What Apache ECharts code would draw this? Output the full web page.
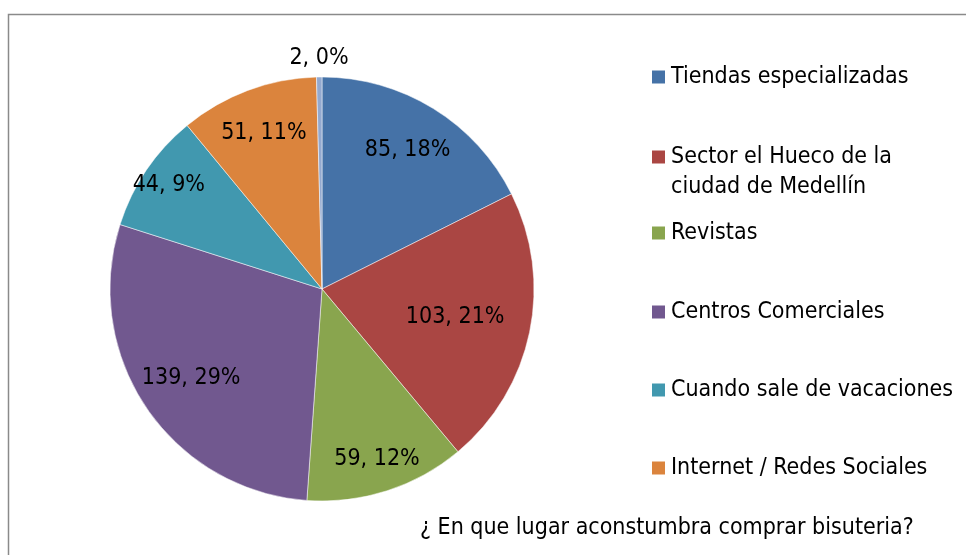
<!DOCTYPE html>
<html>
<head>
<meta charset="utf-8">
<script src="https://cdn.jsdelivr.net/npm/echarts@6/dist/echarts.min.js"></script>
<style>
  html, body { margin: 0; padding: 0; background: #fff; }
  #chart { width: 966px; height: 555px; }
</style>
</head>
<body>
<div id="chart"></div>
<script>
// data
var categories = [
    'Tiendas especializadas',
    'Sector el Hueco de la ciudad de Medellín',
    'Revistas',
    'Centros Comerciales',
    'Cuando sale de vacaciones',
    'Internet / Redes Sociales',
    'Otro'
];
var counts = [85, 103, 59, 139, 44, 51, 2];
var sliceColors = ['#4572A7', '#AA4643', '#89A54E', '#71588F', '#4198AF', '#DB843D', '#93A9CF'];
var legendNames = categories.slice(0, 6);
var chartTitle = '¿ En que lugar aconstumbra comprar bisuteria?';

// layout: how far from the centre each slice's label sits (px)
var labelDist = [160, 133, 176, 155, 182, 163, 228];
// layout: icon centre y of each legend entry
var legendY = [77, 157, 233, 312, 390, 468];

var FONT = '"Liberation Sans Narrow", "Arial Narrow", "DejaVu Sans Condensed", Lato, sans-serif';
var CENTER = [322, 289];
var total = counts.reduce(function (a, b) { return a + b; }, 0);

function pct(v) {
    return Math.round(v / total * 100);
}

function labelText(p) {
    return p.value + ', ' + pct(p.value) + '%';
}

var legends = legendNames.map(function (name, i) {
    // blank first line so the icon lines up with the first text line
    var wrapped = name === categories[1] ? ' \nSector el Hueco de la\nciudad de Medellín' : name;
    var two = wrapped.indexOf('\n') >= 0;
    return {
        orient: 'vertical',
        left: 650,
        top: two ? legendY[i] - 45 : legendY[i] - 15,
        padding: 0,
        itemWidth: 15,
        itemHeight: 15,
        icon: 'rect',
        selectedMode: false,
        data: [name],
        formatter: function () { return wrapped; },
        textStyle: {
            fontFamily: FONT,
            fontSize: 23,
            lineHeight: 30,
            color: '#000'
        }
    };
});

var pieData = categories.map(function (c, i) {
    return { name: c, value: counts[i], itemStyle: { color: sliceColors[i] } };
});

// one transparent ring per slice, only used to place that slice's label
function labelRing(k) {
    return {
        type: 'pie',
        center: CENTER,
        radius: [0, labelDist[k] * 2],
        startAngle: 90,
        silent: true,
        animation: false,
        z: 5,
        itemStyle: { color: 'transparent', borderWidth: 0 },
        label: {
            position: 'inside',
            formatter: labelText,
            fontFamily: FONT,
            fontSize: 23,
            color: '#000'
        },
        labelLine: { show: false },
        data: categories.map(function (c, i) {
            return { name: c, value: counts[i], label: { show: i === k } };
        })
    };
}

var series = [{
    type: 'pie',
    center: CENTER,
    radius: [0, 212],
    startAngle: 90,
    clockwise: true,
    itemStyle: { borderColor: '#fff', borderWidth: 0.5 },
    label: { show: false },
    labelLine: { show: false },
    emphasis: { scale: false },
    data: pieData
}];
categories.forEach(function (c, k) { series.push(labelRing(k)); });

var chart = echarts.init(document.getElementById('chart'), null, { renderer: 'canvas' });
chart.setOption({
    backgroundColor: '#fff',
    animation: false,
    title: {
        text: chartTitle,
        left: 420,
        top: 513,
        padding: 0,
        textStyle: { fontFamily: FONT, fontSize: 23, fontWeight: 'normal', color: '#000', lineHeight: 30 }
    },
    legend: legends,
    graphic: [{
        type: 'rect',
        shape: { x: 8.5, y: 14.5, width: 1000, height: 600 },
        style: { fill: 'none', stroke: '#8a8a8a', lineWidth: 1.5 },
        silent: true
    }],
    series: series
});
</script>
</body>
</html>
